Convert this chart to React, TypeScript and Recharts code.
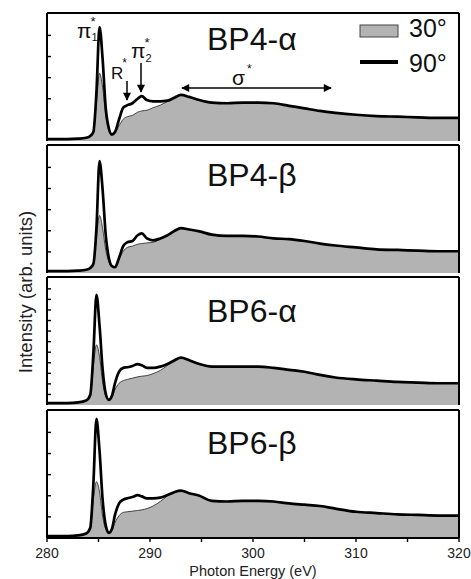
import { ComposedChart, Area, Line, XAxis, YAxis } from "recharts";

const FONT = '"Liberation Sans", Arial, Helvetica, sans-serif';

// photon energy grid (eV)
const ENERGY = [
  280, 282, 283, 283.8, 284.2, 284.5, 284.8, 285.1, 285.4, 285.7, 286.0, 286.3,
  286.6, 287.0, 287.4, 287.8, 288.3, 288.8, 289.2, 289.7, 290.3, 291.0, 291.7,
  292.4, 293.0, 293.8, 294.8, 296.0, 297.5, 299, 300.5, 302, 303.5, 305, 306.5,
  308, 310, 312, 314, 316, 318, 320,
];

// intensities (arb. units, 0-100 of panel height)
const BP4A_90 = [
  1.5, 1.5, 1.8, 2.5, 4, 7, 38, 89, 64, 26, 10, 5, 7, 17, 26, 28, 29.5, 33, 35,
  32, 31, 31, 31.5, 34, 36, 34.5, 32, 30, 29.5, 30, 30, 29.5, 27.5, 25.5, 23.5,
  22, 20.5, 19.5, 19, 18.5, 18, 18,
];
const BP4A_30 = [
  1.5, 1.5, 1.8, 2.5, 4, 7, 30, 53, 42, 20, 9, 6, 6.5, 12, 17, 19, 20, 22.5, 23.5,
  24, 26, 28, 31, 34, 36, 34.5, 32, 30, 29.5, 30, 30, 29.5, 27.5, 25.5, 23.5, 22,
  20.5, 19.5, 19, 18.5, 18, 18,
];
const BP4B_90 = [
  1.5, 1.5, 1.8, 2.5, 4, 7, 35, 87.5, 65, 30, 12, 5.5, 4.5, 12, 21, 24, 25,
  29.5, 31, 27, 25.5, 27, 29.5, 33, 35, 34, 32.5, 30, 29, 29, 28.5, 27, 26.5,
  25, 23, 21.5, 20, 18.5, 18, 17.5, 17, 17,
];
const BP4B_30 = [
  1.5, 1.5, 1.8, 2.5, 4, 7, 28, 45, 35, 18, 9, 5, 5, 11, 17, 20, 21, 22.5, 23,
  23.5, 24, 26.5, 29.5, 33, 35, 34, 32.5, 30, 29, 29, 28.5, 27, 26.5, 25, 23,
  21.5, 20, 18.5, 18, 17.5, 17, 17,
];
const BP6A_90 = [
  1.5, 1.5, 2, 3.5, 8, 40, 86, 62, 28, 9, 4, 7, 17, 26, 29, 29.5, 30.5, 32, 31,
  29, 29, 30, 32, 35, 37, 35, 32, 30, 30, 30, 30, 29, 27.5, 26, 23.5, 21.5, 20,
  19, 18, 17.5, 17, 17,
];
const BP6A_30 = [
  1.5, 1.5, 2, 3.5, 7, 30, 47, 38, 18, 7, 4.5, 6, 12, 17, 19, 20, 21, 22, 22.5,
  23, 24.5, 27, 31, 35, 37, 35, 32, 30, 30, 30, 30, 29, 27.5, 26, 23.5, 21.5, 20,
  19, 18, 17.5, 17, 17,
];
const BP6B_90 = [
  1.5, 1.5, 2, 3.5, 8, 42, 93, 68, 30, 10, 4, 7, 18, 27, 30, 31, 32, 33.5, 32.5,
  31, 31, 31.5, 33.5, 36, 37, 35, 33, 29, 28.5, 29, 29, 28.5, 27, 26, 25, 23,
  20.5, 19.5, 18.5, 18, 17.5, 17.5,
];
const BP6B_30 = [
  1.5, 1.5, 2, 3.5, 7, 30, 44, 36, 17, 7, 4.5, 6, 12, 17.5, 20, 20.5, 21, 21.5,
  22, 23, 25, 28.5, 33, 36, 37, 35, 33, 29, 28.5, 29, 29, 28.5, 27, 26, 25, 23,
  20.5, 19.5, 18.5, 18, 17.5, 17.5,
];

const SAMPLES = ["BP4-α", "BP4-β", "BP6-α", "BP6-β"];
const SERIES_30 = [BP4A_30, BP4B_30, BP6A_30, BP6B_30];
const SERIES_90 = [BP4A_90, BP4B_90, BP6A_90, BP6B_90];

const X_TICKS = [280, 285, 290, 295, 300, 305, 310, 315, 320];
const Y_TICKS_COARSE = [16.5, 33, 49.5, 66, 82.5];
const Y_TICKS_FINE = [8.25, 16.5, 24.75, 33, 41.25, 49.5, 57.75, 66, 74.25, 82.5, 90.75];

// layout
const PANEL_TOP = [13, 145, 277, 410];
const LABEL_BASE = [50, 186, 322, 454];
const PLOT_H = 128;

const frame = { stroke: "#000", strokeWidth: 2 };
const tickStroke = { stroke: "#000", strokeWidth: 1.4 };
const noLabel = () => <g />;

function Panel({ idx }: { idx: number }) {
  const last = idx === 3;
  const rows = ENERGY.map((e, i) => ({
    e,
    a30: SERIES_30[idx][i],
    a90: SERIES_90[idx][i],
  }));
  const h = last ? PLOT_H + 2 + 22 : PLOT_H + 4;
  return (
    <div style={{ position: "absolute", left: 0, top: PANEL_TOP[idx] - 2 }}>
      <ComposedChart
        width={471}
        height={h}
        data={rows}
        margin={{ top: 2, right: 12, bottom: last ? 0 : 2, left: 47 }}
      >
        <XAxis
          dataKey="e"
          type="number"
          domain={[280, 320]}
          ticks={X_TICKS}
          allowDataOverflow
          mirror={!last}
          height={last ? 22 : 0}
          axisLine={frame}
          tickLine={tickStroke}
          tickSize={last ? 4 : 3}
          tickMargin={6}
          interval={0}
          tick={
            last
              ? { fontSize: 14, fill: "#222", fontFamily: FONT }
              : noLabel
          }
          tickFormatter={(v: number) => (v % 10 === 0 ? String(v) : "")}
        />
        <XAxis
          xAxisId="top"
          orientation="top"
          type="number"
          domain={[280, 320]}
          mirror
          axisLine={frame}
          tick={false}
          tickLine={false}
        />
        <YAxis
          type="number"
          domain={[0, 100]}
          ticks={idx === 2 ? Y_TICKS_FINE : Y_TICKS_COARSE}
          interval={0}
          allowDataOverflow
          mirror
          axisLine={frame}
          tickLine={tickStroke}
          tickSize={4}
          tick={noLabel}
        />
        <YAxis
          yAxisId="r"
          orientation="right"
          type="number"
          domain={[0, 100]}
          mirror
          axisLine={frame}
          tick={false}
          tickLine={false}
        />
        <Area
          dataKey="a30"
          type="monotone"
          fill="#b3b3b3"
          fillOpacity={1}
          stroke="#333"
          strokeWidth={0.9}
          isAnimationActive={false}
        />
        <Line
          dataKey="a90"
          type="monotone"
          stroke="#000"
          strokeWidth={2.7}
          dot={false}
          isAnimationActive={false}
        />
      </ComposedChart>
    </div>
  );
}

export default function App() {
  return (
    <div
      style={{
        position: "absolute",
        left: 0,
        top: 0,
        width: 471,
        height: 579,
        background: "#fff",
        overflow: "hidden",
        fontFamily: FONT,
      }}
    >
      {SAMPLES.map((s, i) => (
        <Panel key={s} idx={i} />
      ))}
      <svg
        width={471}
        height={579}
        style={{ position: "absolute", left: 0, top: 0, pointerEvents: "none" }}
        fontFamily={FONT}
      >
        <defs>
          <marker
            id="head"
            viewBox="0 0 10 10"
            refX="9"
            refY="5"
            markerWidth="9"
            markerHeight="8"
            markerUnits="userSpaceOnUse"
            orient="auto-start-reverse"
          >
            <path d="M0,0 L10,5 L0,10 z" fill="#000" />
          </marker>
        </defs>

        {SAMPLES.map((s, i) => (
          <text key={s} x={207} y={LABEL_BASE[i]} fontSize={32} fill="#111">
            {s}
          </text>
        ))}

        {/* peak annotations, top panel */}
        <text x={77} y={38} fontSize={21} fill="#111">
          π
          <tspan fontSize={11} dy={3}>1</tspan>
          <tspan x={90.5} dy={-15} fontSize={13}>*</tspan>
        </text>

        <text x={111} y={79} fontSize={17} fill="#111">
          R
          <tspan fontSize={12} dx={-1} dy={-12}>*</tspan>
        </text>
        <line x1={127} y1={81} x2={127} y2={100} stroke="#000" strokeWidth={1.5} markerEnd="url(#head)" />

        <text x={131} y={58} fontSize={21} fill="#111">
          π
          <tspan fontSize={11} dy={4}>2</tspan>
          <tspan x={144.5} dy={-15} fontSize={13}>*</tspan>
        </text>
        <line x1={141} y1={63} x2={141} y2={92} stroke="#000" strokeWidth={1.5} markerEnd="url(#head)" />

        <text x={232} y={85} fontSize={21} fill="#111">
          σ
          <tspan fontSize={12} dx={2} dy={-12}>*</tspan>
        </text>
        <line
          x1={182}
          y1={88}
          x2={331}
          y2={88}
          stroke="#000"
          strokeWidth={1.5}
          markerStart="url(#head)"
          markerEnd="url(#head)"
        />

        {/* legend */}
        <rect x={360} y={25} width={38} height={12} fill="#b3b3b3" stroke="#444" strokeWidth={1} />
        <text x={409} y={37} fontSize={25} fill="#111">30°</text>
        <line x1={360} y1={62} x2={398} y2={62} stroke="#000" strokeWidth={4} />
        <text x={409} y={72} fontSize={25} fill="#111">90°</text>

        {/* axis titles */}
        <text
          x={25}
          y={292}
          fontSize={18.5}
          fill="#222"
          textAnchor="middle"
          dominantBaseline="central"
          transform="rotate(-90 25 292)"
        >
          Intensity (arb. units)
        </text>
        <text x={253} y={576} fontSize={14.5} fill="#222" textAnchor="middle">
          Photon Energy (eV)
        </text>
      </svg>
    </div>
  );
}
